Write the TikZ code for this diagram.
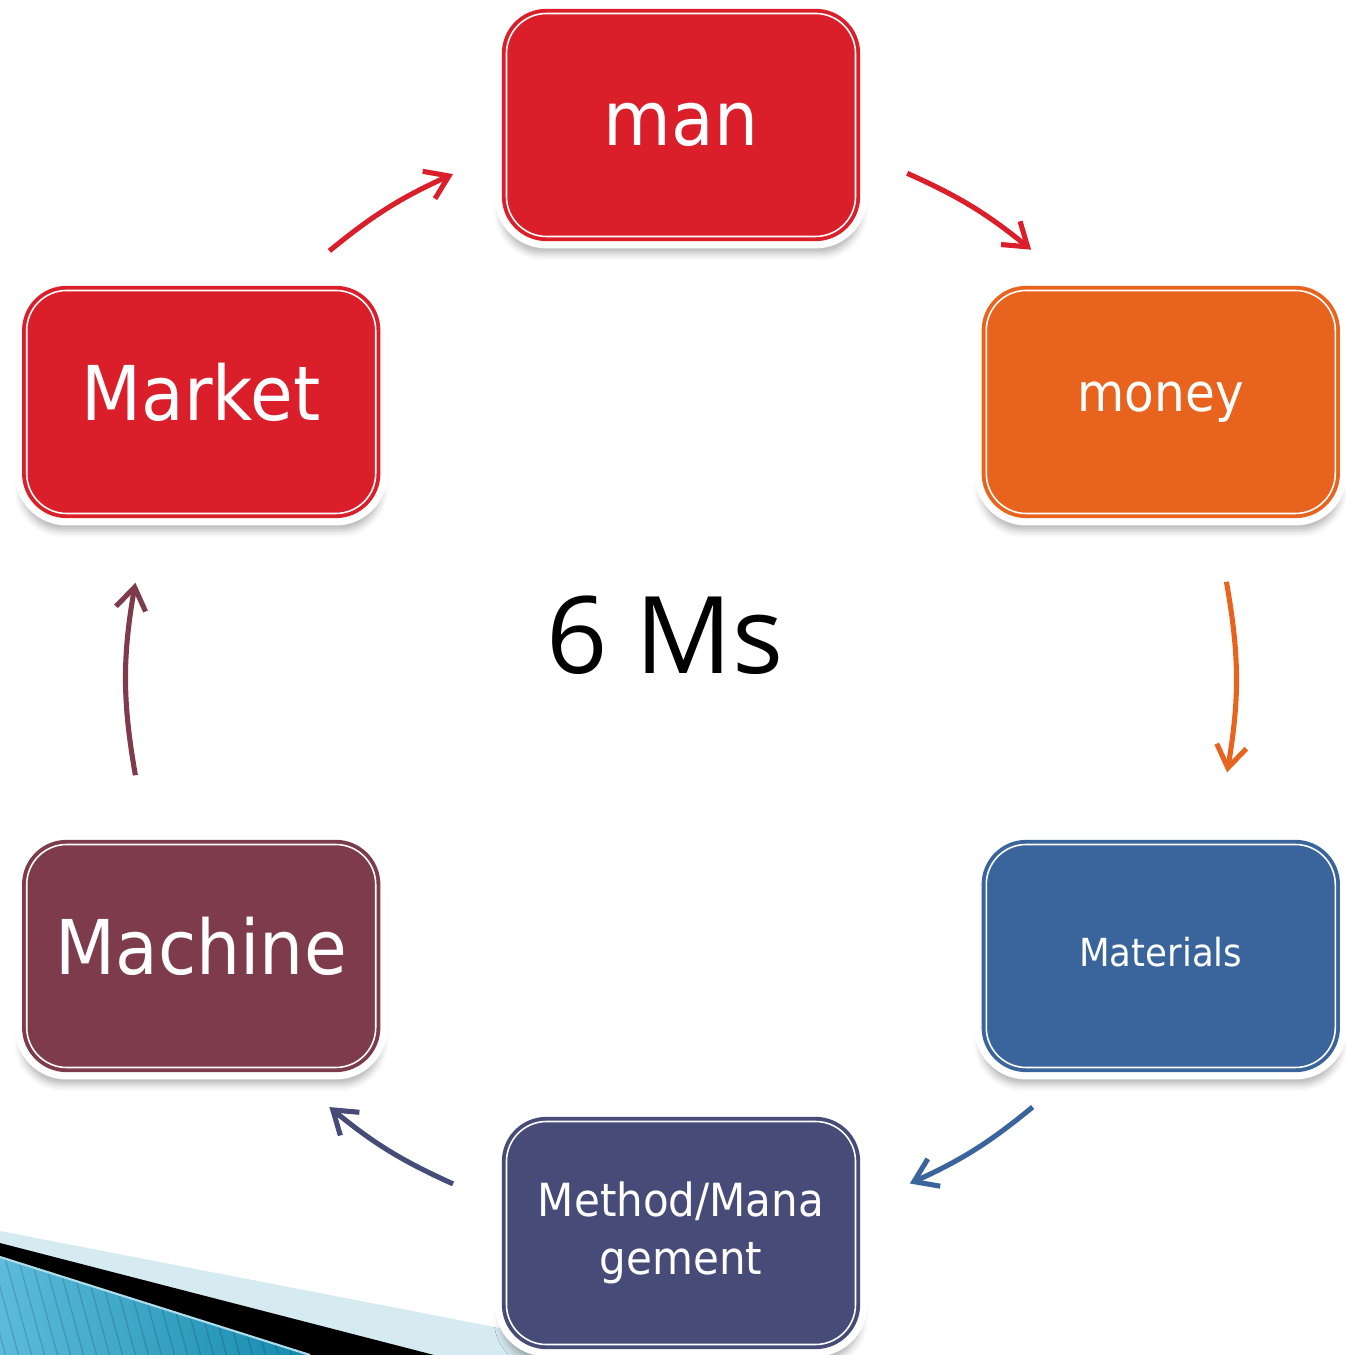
\documentclass[tikz,border=0pt]{standalone}
\usepackage{fontspec}
\setmainfont{DejaVu Sans}[FakeStretch=0.92]
\newfontfamily\msfont{Open Sans}
\usetikzlibrary{arrows.meta,shadows.blur}

\definecolor{manred}{HTML}{DA1F2A}
\definecolor{moneyorange}{HTML}{E8641E}
\definecolor{matblue}{HTML}{3A649C}
\definecolor{methodblue}{HTML}{474B78}
\definecolor{machinered}{HTML}{7E3B4B}
\definecolor{bandlight}{HTML}{D6EAF1}
\definecolor{bandblueA}{HTML}{5DBBDA}
\definecolor{bandblueB}{HTML}{148AAE}

\def\R{5.54}

\begin{document}
\begin{tikzpicture}[
    mbox/.style={rounded corners=0.4cm, minimum width=3.49cm, minimum height=2.23cm,
      align=center, text=white, fill=#1, draw=#1, line width=1.1pt,
      double=white, double distance=0.45pt,
      blur shadow={shadow xshift=0pt, shadow yshift=-0.13cm, shadow scale=1.03,
        shadow blur radius=0.07cm, shadow opacity=30},
      preaction={draw=white, fill=white, line width=6.8pt}},
    flow/.style={draw=#1, line width=1.45pt, -{Straight Barb[length=2.2mm,width=3mm]}}]
    \useasboundingbox (-6.81,-6.76) rectangle (6.64,6.79);

    \fill[bandlight] (-6.81,-5.52) -- (-0.42,-6.76) -- (-6.81,-6.76) -- cycle;
    \fill[black] (-6.81,-5.64) -- (-2.47,-6.76) -- (-6.81,-6.76) -- cycle;
    \begin{scope}
        \clip (-6.81,-5.78) -- (-3.71,-6.76) -- (-6.81,-6.76) -- cycle;
        \shade[left color=bandblueA, right color=bandblueB] (-6.81,-5.78) rectangle (-3.71,-6.76);
        \foreach \i in {0,...,30}
            \draw[black, opacity=0.15, line width=0.35pt] (-7.2+\i*0.13,-5.6) -- ++(0.34,-1.25);
    \end{scope}
    \draw[bandblueA!50!white, line width=0.6pt] (-6.81,-5.78) -- (-3.71,-6.76);

    \node[mbox=manred, font=\fontsize{21.5}{26}\selectfont] (man) at (90:\R) {man};
    \node[mbox=moneyorange, font=\fontsize{15}{18}\selectfont] (money) at (30:\R) {money};
    \node[mbox=matblue, font=\fontsize{11}{14}\selectfont, text depth=0.08cm] (materials) at (-30:\R) {Materials};
    \node[mbox=methodblue, font=\fontsize{13}{16.5}\selectfont] (method) at (-90:\R) {Method/Mana\\gement};
    \node[mbox=machinered, font=\fontsize{21.5}{26}\selectfont, text depth=0.2cm] (machine) at (-150:\R) {Machine};
    \node[mbox=manred, font=\fontsize{21.5}{26}\selectfont, text depth=0.2cm] (market) at (150:\R) {Market};

    \node[font=\msfont\fontsize{30.5}{36}\selectfont] (title) at (-0.16,0.44) {6 Ms};

    \coordinate (a1) at (129.4:\R);
    \coordinate (b1) at (114.3:\R);
    \coordinate (a2) at (65.9:\R);
    \coordinate (b2) at (50.8:\R);
    \coordinate (a3) at (10.1:\R);
    \coordinate (b3) at (-9.7:\R);
    \coordinate (a4) at (-50.6:\R);
    \coordinate (b4) at (-65.6:\R);
    \coordinate (a5) at (-114.3:\R);
    \coordinate (b5) at (-129.4:\R);
    \coordinate (a6) at (190:\R);
    \coordinate (b6) at (170:\R);

    \draw[flow=manred] (a1) to[bend left=7.55] (b1);
    \draw[flow=manred] (a2) to[bend left=7.55] (b2);
    \draw[flow=moneyorange] (a3) to[bend left=9.9] (b3);
    \draw[flow=matblue] (a4) to[bend left=7.5] (b4);
    \draw[flow=methodblue] (a5) to[bend left=7.55] (b5);
    \draw[flow=machinered] (a6) to[bend left=10] (b6);
\end{tikzpicture}
\end{document}
